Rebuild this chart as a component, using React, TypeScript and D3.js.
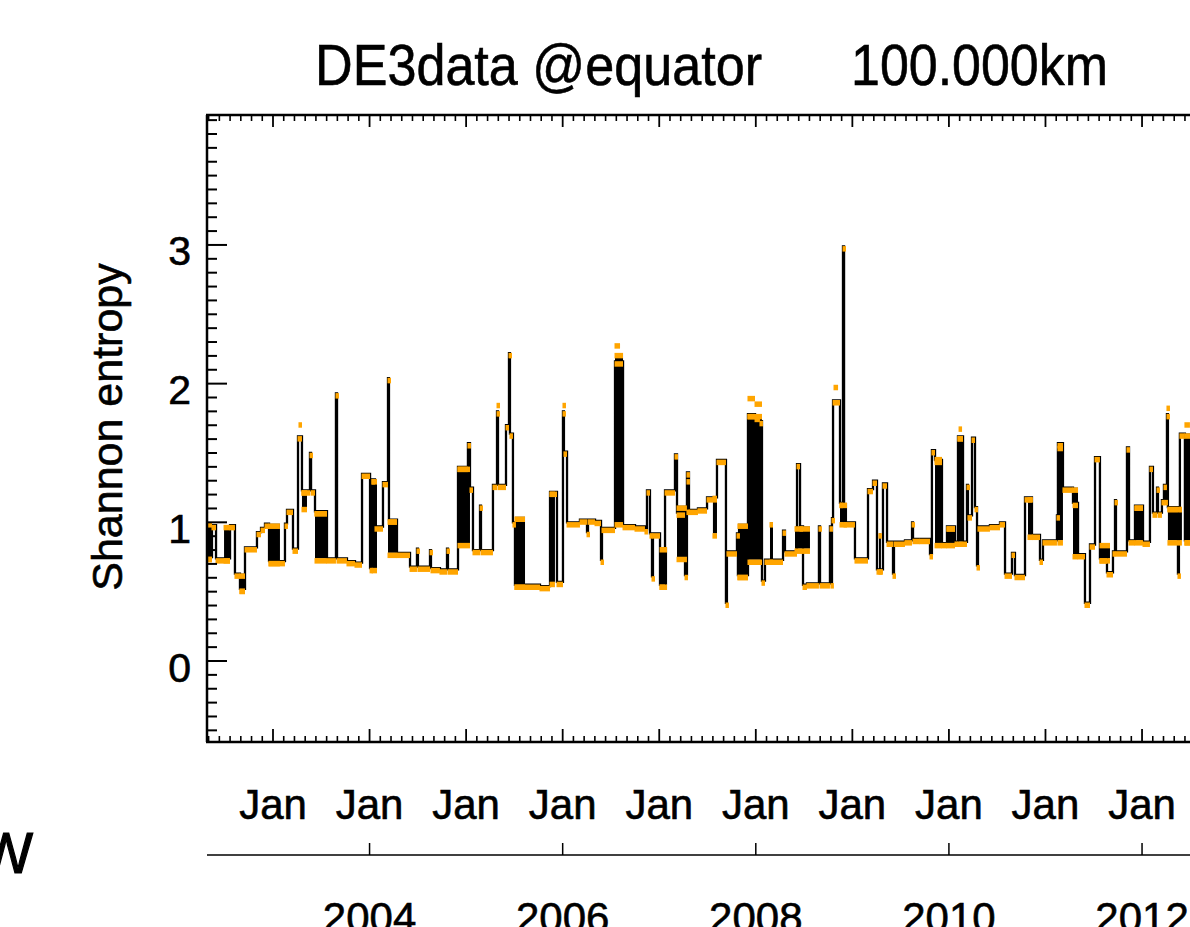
import React from "react";
import * as d3 from "d3";

// time in decimal years, values = Shannon entropy
// step trace: value holds from t until the next entry
const steps: [number, number][] = [
  [2002.317, 0.75], [2002.368, 0.98], [2002.41, 0.74], [2002.555, 0.98],
  [2002.606, 0.63], [2002.658, 0.52], [2002.71, 0.82], [2002.834, 0.93],
  [2002.876, 0.96], [2002.917, 0.99], [2002.959, 0.72], [2003.124, 0.99],
  [2003.145, 1.09], [2003.207, 0.81], [2003.259, 1.62], [2003.3, 1.23],
  [2003.383, 1.5], [2003.394, 1.23], [2003.435, 1.08], [2003.559, 0.74],
  [2003.652, 1.93], [2003.663, 0.74], [2003.766, 0.72], [2003.849, 0.71],
  [2003.922, 1.35], [2004.005, 0.67], [2004.025, 1.31], [2004.056, 0.97],
  [2004.139, 1.29], [2004.191, 2.04], [2004.201, 1.02], [2004.284, 0.78],
  [2004.419, 0.68], [2004.491, 0.81], [2004.501, 0.68], [2004.626, 0.8],
  [2004.636, 0.67], [2004.729, 0.66], [2004.802, 0.81], [2004.812, 0.66],
  [2004.916, 1.4], [2005.019, 1.57], [2005.04, 1.25], [2005.071, 0.8],
  [2005.144, 1.12], [2005.154, 0.8], [2005.278, 1.27], [2005.32, 1.8],
  [2005.33, 1.27], [2005.413, 1.7], [2005.444, 2.22], [2005.454, 1.64],
  [2005.485, 1.0], [2005.506, 0.55], [2005.765, 0.54], [2005.869, 1.22],
  [2005.941, 0.57], [2006.003, 1.8], [2006.013, 1.51], [2006.045, 1.0],
  [2006.179, 1.02], [2006.252, 0.93], [2006.262, 1.02], [2006.335, 1.01],
  [2006.397, 0.73], [2006.407, 0.96], [2006.542, 2.16], [2006.625, 0.98],
  [2006.749, 0.97], [2006.852, 0.95], [2006.873, 1.23], [2006.904, 0.92],
  [2006.925, 0.61], [2006.935, 0.92], [2007.008, 0.55], [2007.06, 1.23],
  [2007.163, 1.49], [2007.184, 1.07], [2007.267, 0.62], [2007.287, 1.36],
  [2007.308, 1.09], [2007.401, 1.1], [2007.495, 1.18], [2007.598, 1.45],
  [2007.691, 0.42], [2007.701, 0.79], [2007.805, 0.92], [2007.815, 0.62],
  [2007.919, 1.78], [2007.992, 1.76], [2008.043, 1.73], [2008.064, 0.58],
  [2008.095, 0.73], [2008.282, 0.94], [2008.302, 0.79], [2008.427, 1.42],
  [2008.458, 0.97], [2008.489, 0.55], [2008.53, 0.56], [2008.654, 0.97],
  [2008.665, 0.56], [2008.768, 0.97], [2008.778, 0.56], [2008.789, 1.03],
  [2008.8, 1.88], [2008.872, 1.14], [2008.903, 2.99], [2008.914, 1.0],
  [2009.027, 0.74], [2009.162, 1.24], [2009.214, 1.3], [2009.255, 0.66],
  [2009.317, 1.28], [2009.359, 0.86], [2009.421, 0.63], [2009.431, 0.86],
  [2009.545, 0.87], [2009.618, 1.0], [2009.628, 0.88], [2009.7, 0.88],
  [2009.804, 0.77], [2009.824, 1.52], [2009.856, 1.45], [2009.928, 0.85],
  [2009.98, 0.97], [2010.063, 0.86], [2010.094, 1.62], [2010.146, 0.86],
  [2010.187, 1.27], [2010.197, 1.05], [2010.239, 1.61], [2010.27, 1.11],
  [2010.291, 0.69], [2010.301, 0.97], [2010.425, 0.98], [2010.529, 1.0],
  [2010.581, 0.63], [2010.653, 0.78], [2010.684, 0.62], [2010.788, 1.18],
  [2010.86, 0.91], [2010.943, 0.73], [2010.974, 0.87], [2011.119, 1.05],
  [2011.129, 1.57], [2011.181, 1.25], [2011.285, 1.14], [2011.337, 0.77],
  [2011.409, 0.42], [2011.461, 0.84], [2011.513, 1.47], [2011.564, 0.74],
  [2011.637, 0.64], [2011.699, 0.79], [2011.72, 1.16], [2011.73, 0.79],
  [2011.844, 1.54], [2011.865, 0.87], [2011.927, 1.12], [2012.01, 0.86],
  [2012.082, 1.4], [2012.113, 1.07], [2012.155, 1.25], [2012.165, 1.07],
  [2012.206, 1.16], [2012.227, 1.27], [2012.237, 1.16], [2012.258, 1.78],
  [2012.268, 1.11], [2012.372, 0.63], [2012.382, 1.11], [2012.392, 1.64],
  [2012.444, 0.87], [2012.548, 0.87],
];

// stretches where the daily values flip between two levels: [t0, t1, lo, hi]
const bands: [number, number, number, number][] = [
  [2002.317, 2002.368, 0.75, 1.0], [2002.493, 2002.555, 0.74, 0.98],
  [2002.658, 2002.71, 0.52, 0.63], [2002.959, 2003.072, 0.72, 0.99],
  [2003.3, 2003.352, 1.11, 1.23], [2003.435, 2003.559, 0.74, 1.08],
  [2004.025, 2004.077, 0.67, 1.31], [2004.191, 2004.284, 0.78, 1.02],
  [2004.916, 2005.04, 0.85, 1.4], [2005.506, 2005.61, 0.55, 1.04],
  [2005.869, 2005.92, 0.57, 1.22], [2006.542, 2006.625, 1.0, 2.22],
  [2007.008, 2007.081, 0.55, 0.82], [2007.184, 2007.287, 0.75, 1.12],
  [2007.287, 2007.318, 1.09, 1.31], [2007.556, 2007.598, 0.92, 1.19],
  [2007.815, 2007.919, 0.62, 0.99], [2007.919, 2008.064, 0.73, 1.78],
  [2008.147, 2008.178, 0.73, 1.0], [2008.406, 2008.561, 0.81, 0.97],
  [2008.872, 2008.945, 1.0, 1.14], [2009.275, 2009.296, 0.66, 0.92],
  [2009.856, 2009.928, 0.85, 1.47], [2009.98, 2010.063, 0.85, 0.97],
  [2010.094, 2010.146, 0.86, 1.62], [2010.819, 2010.87, 0.91, 1.18],
  [2011.129, 2011.181, 0.87, 1.55], [2011.285, 2011.337, 0.77, 1.25],
  [2011.564, 2011.668, 0.74, 0.85], [2011.927, 2012.01, 0.87, 1.12],
  [2012.268, 2012.413, 0.87, 1.11], [2012.444, 2012.548, 0.87, 1.64],
];

// orange points that sit off the black trace: [t0, t1, value]
const orangeExtra: [number, number, number][] = [
  [2003.269, 2003.29, 1.72], [2005.32, 2005.34, 1.86], [2006.003, 2006.013, 1.86],
  [2006.542, 2006.594, 2.29], [2007.919, 2007.992, 1.91], [2007.992, 2008.064, 1.87],
  [2008.81, 2008.852, 1.99], [2010.105, 2010.125, 1.69], [2012.258, 2012.268, 1.84],
  [2012.444, 2012.496, 1.72],
];

const janYears = d3.range(2003, 2013);
const yearLabels = [2004, 2006, 2008, 2010, 2012];
const yLabels = [0, 1, 2, 3];

const FONT = "'Liberation Sans', Arial, Helvetica, sans-serif";
const ORANGE = "#ffa500";

const left = 207;
const right = 1238.6;
const top = 115;
const bottom = 742;

const x = d3.scaleLinear().domain([2002.3165, 2013]).range([left, right]);
const y = d3.scaleLinear().domain([-0.584, 3.937]).range([bottom, top]);

// IDL text comes out a touch heavier than plain Liberation
const ink = { stroke: "#000", strokeWidth: 0.6 };

export default function App() {
  const trace = d3
    .line<[number, number]>()
    .x(d => x(d[0]))
    .y(d => y(d[1]))
    .curve(d3.curveStepAfter)(steps);

  // orange symbol runs: plateaus of the trace, band edges, loose points
  const runs: [number, number, number][] = [];
  steps.forEach((d, i) => {
    if (i < steps.length - 1) runs.push([d[0], steps[i + 1][0], d[1]]);
  });
  bands.forEach(b => {
    runs.push([b[0], b[1], b[2]]);
    runs.push([b[0], b[1], b[3]]);
  });
  orangeExtra.forEach(o => runs.push(o));

  const xMajor = d3.range(2003, 2014).filter(t => x(t) >= left && x(t) <= right);
  const xMinor: number[] = [];
  d3.range(2002, 2013).forEach(yr => {
    for (let k = 1; k < 9; k++) {
      const t = yr + k / 9;
      if (x(t) > left + 0.5 && x(t) < right) xMinor.push(t);
    }
  });
  const yMinor = d3
    .range(-5, 40)
    .map(i => i / 10)
    .filter(v => y(v) < bottom && y(v) > top && Math.abs(v - Math.round(v)) > 1e-6);

  return (
    <svg
      width={1190}
      height={927}
      style={{ position: "absolute", left: 0, top: 0, background: "#fff" }}
      fontFamily={FONT}
    >
      <rect x={0} y={0} width={1190} height={927} fill="#fff" />

      {/* title */}
      <g {...ink}>
        <text x={315} y={85} fontSize={57} textLength={447} lengthAdjust="spacingAndGlyphs">
          DE3data @equator
        </text>
        <text x={851} y={85} fontSize={57} textLength={257} lengthAdjust="spacingAndGlyphs">
          100.000km
        </text>
      </g>

      {/* data */}
      <g>
        {bands.map((b, i) => (
          <rect
            key={"b" + i}
            x={x(b[0])}
            y={y(b[3])}
            width={Math.max(1.5, x(b[1]) - x(b[0]))}
            height={y(b[2]) - y(b[3])}
            fill="#000"
          />
        ))}
        <path d={trace || ""} fill="none" stroke="#000" strokeWidth={2.3} />
        {runs.map((r, i) => {
          const x0 = x(r[0]);
          const x1 = Math.max(x(r[1]), x0 + 3);
          return (
            <line
              key={"o" + i}
              x1={x0 - 0.5}
              x2={x1}
              y1={y(r[2]) + 2.5}
              y2={y(r[2]) + 2.5}
              stroke={ORANGE}
              strokeWidth={5.5}
            />
          );
        })}
      </g>

      {/* frame */}
      <g stroke="#000" fill="none">
        <line x1={left} x2={left} y1={top} y2={bottom} strokeWidth={2.5} />
        <line x1={right} x2={right} y1={top} y2={bottom} strokeWidth={2.5} />
        <line x1={left - 1} x2={right} y1={top} y2={top} strokeWidth={2.5} />
        <line x1={left - 1} x2={right} y1={bottom} y2={bottom} strokeWidth={2.5} />
        {yLabels.map(v => (
          <line key={"ym" + v} x1={left} x2={left + 20} y1={y(v)} y2={y(v)} strokeWidth={2} />
        ))}
        {yMinor.map(v => (
          <line key={"yn" + v} x1={left} x2={left + 10} y1={y(v)} y2={y(v)} strokeWidth={2} />
        ))}
        {xMajor.map(t => (
          <g key={"xm" + t}>
            <line x1={x(t)} x2={x(t)} y1={bottom} y2={bottom - 13} strokeWidth={1.8} />
            <line x1={x(t)} x2={x(t)} y1={top} y2={top + 12} strokeWidth={1.8} />
          </g>
        ))}
        {xMinor.map(t => (
          <g key={"xn" + t}>
            <line x1={x(t)} x2={x(t)} y1={bottom} y2={bottom - 6} strokeWidth={1.6} />
            <line x1={x(t)} x2={x(t)} y1={top} y2={top + 6} strokeWidth={1.6} />
          </g>
        ))}
      </g>

      <g {...ink}>
        {/* y axis labels */}
        {yLabels.map(v => (
          <text key={"yl" + v} x={191} y={y(v) + 20.5} fontSize={41} textAnchor="end">
            {v}
          </text>
        ))}
        <text transform="translate(122,427) rotate(-90)" fontSize={43} textAnchor="middle">
          Shannon entropy
        </text>

        {/* month labels */}
        {janYears.map(t => (
          <text key={"jan" + t} x={x(t)} y={819} fontSize={42} textAnchor="middle">
            Jan
          </text>
        ))}

        {/* year labels, cut by the bottom edge as in the original */}
        {yearLabels.map(t => (
          <text key={"yr" + t} x={x(t)} y={932} fontSize={42} textAnchor="middle">
            {t}
          </text>
        ))}

        <text x={33} y={873} fontSize={57} textAnchor="end" strokeWidth={1.2}>
          W
        </text>
      </g>

      {/* year axis */}
      <line x1={left} x2={right} y1={855} y2={855} stroke="#000" strokeWidth={1.5} />
      {yearLabels.map(t => (
        <line key={"yt" + t} x1={x(t)} x2={x(t)} y1={855} y2={843} stroke="#000" strokeWidth={1.5} />
      ))}
    </svg>
  );
}
